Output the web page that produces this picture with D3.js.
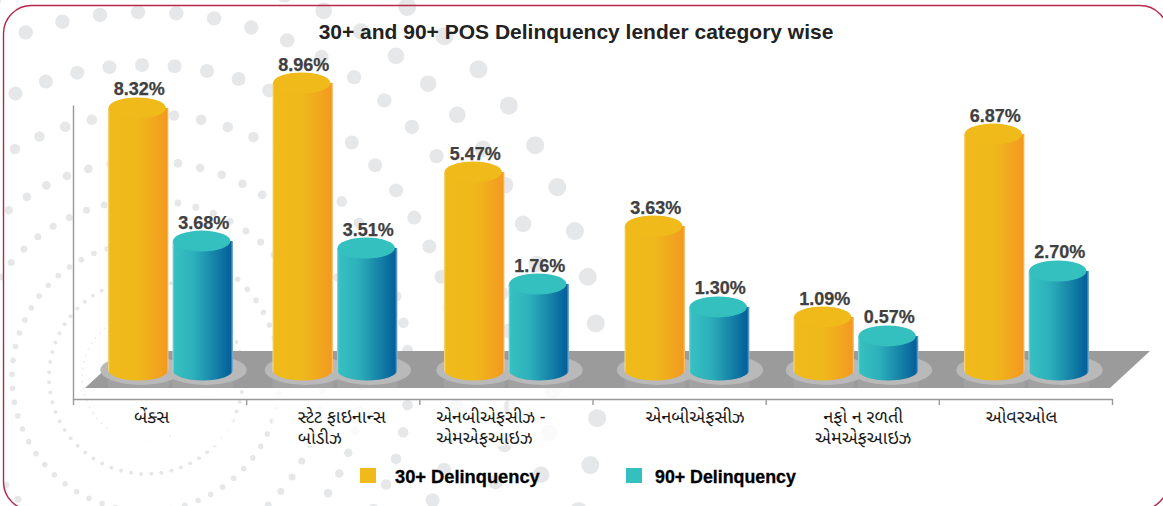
<!DOCTYPE html>
<html><head><meta charset="utf-8">
<script src="https://cdn.jsdelivr.net/npm/d3@7"></script>
<style>html,body{margin:0;padding:0;background:#fff;overflow:hidden}svg{display:block}</style>
</head><body><svg id="c" width="1163" height="506"></svg>
<script>
// ---- data ----
const categories = ["બેંક્સ","સ્ટેટ ફાઇનાન્સ બોડીઝ","એનબીએફસીઝ - એમએફઆઇઝ","એનબીએફસીઝ","નફો ન રળતી એમએફઆઇઝ","ઓવરઓલ"];
const categoryLines = [["બેંક્સ"],["સ્ટેટ ફાઇનાન્સ","બોડીઝ"],["એનબીએફસીઝ -","એમએફઆઇઝ"],["એનબીએફસીઝ"],["નફો ન રળતી","એમએફઆઇઝ"],["ઓવરઓલ"]];
const seriesNames = ["30+ Delinquency","90+ Delinquency"];
// printed labels
const labels30 = [8.32,8.96,5.47,3.63,1.09,6.87];
const labels90 = [3.68,3.51,1.76,1.30,0.57,2.70];
// bar heights as actually drawn in the picture (the source's columns do not track their labels exactly)
const drawn30 = [8.38,9.24,6.17,4.31,1.17,7.48];
const drawn90 = [3.79,3.55,2.31,1.52,0.52,2.76];
const title = "30+ and 90+ POS Delinquency lender category wise";
// small layout offsets of the source
const groupNudge = [10.9,2.2,0.6,7.9,3.7,1.1];
const labelNudge = [-8,9,-15,16,11,-4];
const labelLeftAligned = [false,true,true,false,false,false];

const svg = d3.select("#c"), W=1163, H=506;
const C30="#efba1a", C90="#35c0c0";
const font="'Liberation Sans',Arial,sans-serif";
const guj="'Noto Sans Gujarati','Lohit Gujarati','Noto Sans',sans-serif";

const defs = svg.append("defs");
function grad(id,stops){const g=defs.append("linearGradient").attr("id",id);
  stops.forEach(s=>g.append("stop").attr("offset",s[0]).attr("stop-color",s[1]));}
grad("g30",[[0,"#f7dc8c"],[0.03,"#efba1a"],[0.5,"#efb81b"],[0.97,"#f39a20"],[1,"#f7c98a"]]);
grad("g90",[[0,"#9fdede"],[0.03,"#36c0c1"],[0.35,"#2db0bb"],[0.96,"#04609a"],[1,"#8fb8d4"]]);

// ---- background dot rings ----
const ringCentre=[146,377];
const rings=[[453,9,.091],[407,8.3,.033],[365,7.2,.083],[312,7,.092],[263,5.3,.002],[216,4.3,.044],[177,3.5,.076],[134,2.8,.02],[97,2,.05],[64,1,.03]];
const bg=svg.append("g");
rings.forEach(([r,dot,ph])=>{
  bg.selectAll(null).data(d3.range(60)).enter().append("circle")
   .attr("cx",k=>ringCentre[0]+r*Math.sin(ph+k*Math.PI/30))
   .attr("cy",k=>ringCentre[1]-r*Math.cos(ph+k*Math.PI/30))
   .attr("r",dot).attr("fill",r<70?"#eeeeee":"#e6e7e8");
});

// ---- frame ----
svg.append("rect").attr("x",3.5).attr("y",5.5).attr("width",1164.5).attr("height",504.5).attr("rx",28)
  .attr("fill","none").attr("stroke","#b5284b").attr("stroke-width",1.4);

// ---- scales ----
const x=d3.scaleBand().domain(categories).range([73,1112]);
const tickScale=d3.scaleLinear().domain([0,categories.length]).range([73,1112]);
const y=d3.scaleLinear().domain([0,10]).range([351,61]);
const centre=(c,i)=>x(c)+x.bandwidth()/2+groupNudge[i];
const barW=60.5, gap=4, ry=10.5;
const groups=categories.map((c,i)=>({c,i,cx:centre(c,i)}));

// reflections behind the label area
const bars=[];
groups.forEach(g=>{
  bars.push({...g,s:0,v:drawn30[g.i],l:labels30[g.i],x0:g.cx-barW-gap/2});
  bars.push({...g,s:1,v:drawn90[g.i],l:labels90[g.i],x0:g.cx+gap/2});
});
svg.append("g").selectAll("rect").data(bars).enter().append("rect")
  .attr("x",d=>d.x0).attr("width",barW).attr("y",y(0)+35).attr("height",60)
  .attr("fill","#fff").attr("fill-opacity",.8);

// ---- floor ----
const fb=y(0)+37;
svg.append("path").attr("d",`M${x.range()[0]+12},${fb}L${x.range()[1]-2},${fb}L${x.range()[1]+38},${y(0)}L${x.range()[0]+52},${y(0)}Z`)
  .attr("fill","#9b9b9b");
svg.append("g").selectAll("rect").data(bars).enter().append("rect")
  .attr("x",d=>d.x0).attr("width",barW).attr("y",y(0)+28).attr("height",9)
  .attr("fill","#fff").attr("fill-opacity",.07);

// halos
svg.append("g").selectAll("ellipse").data(bars).enter().append("ellipse")
  .attr("cx",d=>d.x0+barW/2+3).attr("cy",y(0)+19).attr("rx",41).attr("ry",15)
  .attr("fill","#b9b9b9");

// ---- axes ----
const axG=svg.append("g").attr("transform",`translate(0,399)`)
  .call(d3.axisBottom(tickScale).tickValues(d3.range(categories.length+1)).tickSize(6).tickSizeOuter(0).tickFormat(""));
axG.selectAll("path,line").attr("stroke","#999").attr("stroke-width",1.4);
const ayG=svg.append("g").attr("transform",`translate(73,0)`)
  .call(d3.axisLeft(d3.scaleLinear().domain([0,1]).range([399,105])).tickValues([]).tickSize(0));
ayG.selectAll("path").attr("stroke","#999").attr("stroke-width",1.4);

// ---- cylinders ----
const base=y(0)+19;
const cyl=svg.append("g").selectAll("g").data(bars).enter().append("g");
cyl.append("path").attr("d",d=>{
    const x0=d.x0,x1=d.x0+barW,t=y(d.v);
    return `M${x0},${t}L${x1},${t}L${x1},${base}A${barW/2},${ry} 0 0 1 ${x0},${base}Z`;})
  .attr("fill",d=>d.s?"url(#g90)":"url(#g30)");
cyl.append("ellipse").attr("cx",d=>d.x0+barW/2-1).attr("cy",d=>y(d.v)).attr("rx",barW/2-1.5).attr("ry",ry)
  .attr("fill",d=>d.s?C90:C30);

// ---- value labels ----
svg.append("g").selectAll("text").data(bars).enter().append("text")
  .attr("x",d=>d.x0+barW/2+1).attr("y",d=>y(d.v)-12.5).attr("text-anchor","middle")
  .attr("font-family",font).attr("font-weight",700).attr("font-size",18).attr("fill","#404040")
  .attr("stroke","#404040").attr("stroke-width",.25)
  .text(d=>d3.format(".2f")(d.l)+"%");

// ---- category labels ----
const cat=svg.append("g").selectAll("text").data(groups).enter().append("text")
  .attr("font-family",guj).attr("font-size",18).attr("fill","#1a1a1a").attr("text-anchor","middle");
cat.each(function(g){
  const t=d3.select(this), cx=x(g.c)+x.bandwidth()/2+labelNudge[g.i];
  const spans=categoryLines[g.i].map((ln,j)=>t.append("tspan").attr("x",cx).attr("y",423+j*20.5).text(ln));
  if(labelLeftAligned[g.i]){
    const widths=spans.map(s=>s.node().getComputedTextLength());
    const left=cx-d3.max(widths)/2;
    t.attr("text-anchor","start");
    spans.forEach(s=>s.attr("x",left));
  }
});

// ---- title ----
svg.append("text").attr("x",576).attr("y",39).attr("text-anchor","middle")
  .attr("font-family",font).attr("font-weight",700).attr("font-size",21).attr("fill","#222").text(title);

// ---- legend ----
const legend=svg.append("g").selectAll("g").data(seriesNames).enter().append("g");
const lx=d3.scaleOrdinal().domain(seriesNames).range([360,626]);
legend.append("rect").attr("x",d=>lx(d)).attr("y",468).attr("width",16).attr("height",15)
  .attr("fill",(d,i)=>i?C90:C30);
legend.append("text").attr("x",(d,i)=>lx(d)+(i?29:35)).attr("y",483)
  .attr("font-family",font).attr("font-weight",700).attr("font-size",(d,i)=>i?17.8:18.3).attr("fill","#000")
  .attr("stroke","#000").attr("stroke-width",.3).text(d=>d);
</script></body></html>
